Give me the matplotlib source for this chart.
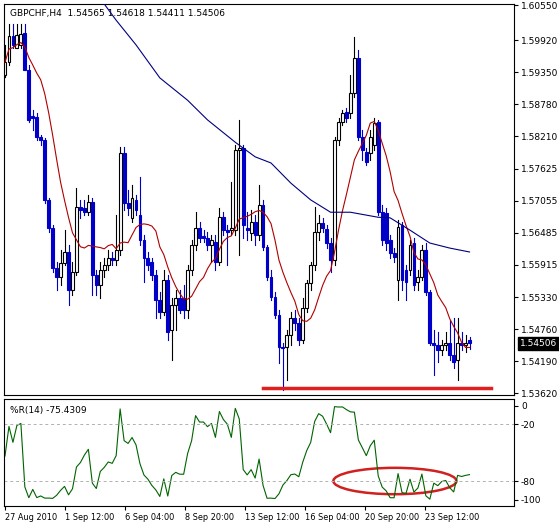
import numpy as np
import matplotlib
matplotlib.use("Agg")
import matplotlib.pyplot as plt
from matplotlib.patches import Rectangle, Ellipse

# GBPCHF H4 candles
opens = [1.5930, 1.5953, 1.6000, 1.5978, 1.5984, 1.6005, 1.5939, 1.5857, 1.5855, 1.5819,
         1.5814, 1.5707, 1.5657, 1.5585, 1.5569, 1.5594, 1.5614, 1.5546, 1.5578, 1.5694,
         1.5693, 1.5685, 1.5703, 1.5573, 1.5555, 1.5582, 1.5591, 1.5603, 1.5600, 1.5617,
         1.5791, 1.5701, 1.5675, 1.5707, 1.5680, 1.5635, 1.5603, 1.5596, 1.5573, 1.5528,
         1.5507, 1.5564, 1.5475, 1.5519, 1.5532, 1.5532, 1.5510, 1.5582, 1.5626, 1.5657,
         1.5643, 1.5639, 1.5626, 1.5632, 1.5596, 1.5676, 1.5653, 1.5653, 1.5653, 1.5796,
         1.5800, 1.5657, 1.5648, 1.5668, 1.5644, 1.5698, 1.5623, 1.5569, 1.5534, 1.5501,
         1.5444, 1.5444, 1.5466, 1.5496, 1.5487, 1.5457, 1.5514, 1.5559, 1.5591, 1.5650,
         1.5666, 1.5655, 1.5630, 1.5600, 1.5814, 1.5846, 1.5864, 1.5862, 1.5898, 1.5960,
         1.5819, 1.5793, 1.5791, 1.5805, 1.5846, 1.5685, 1.5684, 1.5635, 1.5612, 1.5564,
         1.5662, 1.5582, 1.5582, 1.5630, 1.5560, 1.5569, 1.5617, 1.5542, 1.5451, 1.5448,
         1.5439, 1.5448, 1.5451, 1.5430, 1.5421, 1.5451, 1.5448, 1.54565]
closes = [1.5953, 1.6000, 1.5984, 1.6001, 1.6003, 1.5939, 1.5850, 1.5853, 1.5819, 1.5814,
          1.5707, 1.5657, 1.5585, 1.5569, 1.5594, 1.5614, 1.5546, 1.5578, 1.5694, 1.5689,
          1.5685, 1.5703, 1.5573, 1.5555, 1.5582, 1.5591, 1.5603, 1.5600, 1.5617, 1.5791,
          1.5701, 1.5693, 1.5710, 1.5689, 1.5635, 1.5603, 1.5591, 1.5573, 1.5528, 1.5507,
          1.5564, 1.5471, 1.5519, 1.5532, 1.5510, 1.5510, 1.5582, 1.5626, 1.5657, 1.5639,
          1.5639, 1.5626, 1.5635, 1.5596, 1.5676, 1.5653, 1.5650, 1.5657, 1.5796, 1.5800,
          1.5662, 1.5653, 1.5668, 1.5644, 1.5698, 1.5623, 1.5569, 1.5534, 1.5501, 1.5444,
          1.5443, 1.5466, 1.5496, 1.5487, 1.5457, 1.5514, 1.5559, 1.5591, 1.5650, 1.5666,
          1.5657, 1.5630, 1.5600, 1.5814, 1.5846, 1.5862, 1.5853, 1.5898, 1.5960, 1.5819,
          1.5796, 1.5775, 1.5819, 1.5844, 1.5685, 1.5635, 1.5630, 1.5612, 1.5605, 1.5659,
          1.5564, 1.5560, 1.5626, 1.5555, 1.5569, 1.5617, 1.5542, 1.5451, 1.5448, 1.5439,
          1.5448, 1.5451, 1.5430, 1.5417, 1.5451, 1.5448, 1.5451, 1.54506]
highs = [1.5984, 1.6021, 1.6021, 1.6021, 1.6021, 1.6021, 1.5948, 1.5868, 1.5862, 1.5823,
         1.5818, 1.5710, 1.5662, 1.5596, 1.5617, 1.5653, 1.5626, 1.5596, 1.5728, 1.5707,
         1.5707, 1.5716, 1.5710, 1.5582, 1.5596, 1.5603, 1.5617, 1.5614, 1.5680, 1.5801,
         1.5801, 1.5725, 1.5734, 1.5716, 1.5748, 1.5644, 1.5614, 1.5603, 1.5582, 1.5542,
         1.5582, 1.5573, 1.5532, 1.5546, 1.5546, 1.5555, 1.5591, 1.5635, 1.5685, 1.5668,
         1.5653, 1.5650, 1.5644, 1.5644, 1.5693, 1.5685, 1.5662, 1.5739, 1.5805, 1.5850,
         1.5805, 1.5685, 1.5689, 1.5680, 1.5734, 1.5707, 1.5626, 1.5582, 1.5542, 1.5510,
         1.5451, 1.5475, 1.5507, 1.5510, 1.5496, 1.5532, 1.5564, 1.5596, 1.5694, 1.5680,
         1.5675, 1.5662, 1.5639, 1.5819, 1.5853, 1.5868, 1.5871, 1.5930, 1.5998, 1.5975,
         1.5832, 1.5800, 1.5832, 1.5853, 1.5850, 1.5698, 1.5693, 1.5644, 1.5621, 1.5671,
         1.5668, 1.5591, 1.5635, 1.5639, 1.5582, 1.5626, 1.5630, 1.5546, 1.5475, 1.5471,
         1.5457, 1.5471, 1.5492, 1.5496, 1.5496, 1.5471, 1.5466, 1.54618]
lows = [1.5926, 1.5948, 1.5978, 1.5978, 1.5978, 1.5939, 1.5846, 1.5832, 1.5814, 1.5805,
        1.5701, 1.5650, 1.5578, 1.5546, 1.5555, 1.5591, 1.5519, 1.5537, 1.5573, 1.5675,
        1.5680, 1.5680, 1.5537, 1.5537, 1.5532, 1.5569, 1.5582, 1.5591, 1.5591, 1.5609,
        1.5689, 1.5680, 1.5668, 1.5680, 1.5626, 1.5560, 1.5582, 1.5564, 1.5496, 1.5496,
        1.5501, 1.5457, 1.5421, 1.5475, 1.5505, 1.5496, 1.5496, 1.5573, 1.5617, 1.5632,
        1.5632, 1.5617, 1.5596, 1.5582, 1.5591, 1.5644, 1.5591, 1.5644, 1.5644, 1.5609,
        1.5639, 1.5635, 1.5635, 1.5626, 1.5635, 1.5617, 1.5564, 1.5528, 1.5496, 1.5416,
        1.5367, 1.5385, 1.5448, 1.5475, 1.5448, 1.5451, 1.5507, 1.5546, 1.5582, 1.5635,
        1.5650, 1.5621, 1.5578, 1.5591, 1.5805, 1.5841, 1.5846, 1.5853, 1.5891, 1.5814,
        1.5778, 1.5769, 1.5778, 1.5796, 1.5680, 1.5626, 1.5617, 1.5603, 1.5596, 1.5528,
        1.5546, 1.5528, 1.5573, 1.5546, 1.5546, 1.5564, 1.5537, 1.5448, 1.5394, 1.5417,
        1.5430, 1.5439, 1.5421, 1.5407, 1.5385, 1.5439, 1.5435, 1.54411]

# slow moving average (blue), read at a few bars
slow_ma_bars = [25, 28, 33, 39, 46, 51, 58, 63, 67, 72, 77, 82, 87, 94, 97, 102, 107, 112, 117]
slow_ma_vals = [1.6057, 1.6028, 1.5984, 1.5925, 1.5885, 1.5850, 1.5810, 1.5784, 1.5773, 1.5737,
                1.5707, 1.5685, 1.5685, 1.5676, 1.5675, 1.5653, 1.5630, 1.5621, 1.5614]

price_ticks = [1.60550, 1.59920, 1.59350, 1.58780, 1.58210, 1.57625, 1.57055,
               1.56485, 1.55915, 1.55330, 1.54760, 1.54190, 1.53620]
date_labels = ["27 Aug 2010", "1 Sep 12:00", "6 Sep 04:00", "8 Sep 20:00",
               "13 Sep 12:00", "16 Sep 04:00", "20 Sep 20:00", "23 Sep 12:00"]
support_level = 1.5371

o = np.array(opens); c = np.array(closes); h = np.array(highs); l = np.array(lows)
n = len(o)
idx = np.arange(n)

# fast MA (red) and Williams %R(14) derived from the candles
fast_ma = np.array([c[max(0, i - 9):i + 1].mean() for i in range(n)])
wr = []
for i in range(n):
    hh = h[max(0, i - 13):i + 1].max()
    ll = l[max(0, i - 13):i + 1].min()
    wr.append(-100 * (hh - c[i]) / (hh - ll))
wr = np.array(wr)

W, H = 559, 526
fig = plt.figure(figsize=(W / 100, H / 100), dpi=100)
ax = fig.add_axes([4 / W, 1 - 395 / H, 510 / W, 391 / H])
ax2 = fig.add_axes([4 / W, 1 - 506 / H, 510 / W, 107 / H])

blue = "#0000c8"
for i in range(n):
    bull = c[i] >= o[i]
    col = "black" if bull else blue
    ax.plot([i, i], [l[i], h[i]], color=col, lw=0.8, zorder=2)
    lo, hi = min(o[i], c[i]), max(o[i], c[i])
    ax.add_patch(Rectangle((i - 0.36, lo), 0.72, max(hi - lo, 0.00005),
                           facecolor="white" if bull else blue, edgecolor=col,
                           lw=0.8, zorder=3))
ax.plot(idx, fast_ma, color="#b00000", lw=0.8, zorder=4)
ax.plot(slow_ma_bars, slow_ma_vals, color="#000080", lw=0.8, zorder=4)
ax.plot([65, 122.5], [support_level, support_level], color="#e02020", lw=2.5, zorder=5)

xmin, xmax = -0.25, 128.2
ax.set_xlim(xmin, xmax)
ax.set_ylim(1.53585, 1.6057)
ax.yaxis.tick_right()
ax.set_yticks(price_ticks)
ax.set_yticklabels([f"{t:.5f}" for t in price_ticks])
ax.set_xticks([])
ax.tick_params(axis="y", labelsize=6.5, length=3, pad=2)
ax.text(0.012, 0.988, "GBPCHF,H4  1.54565 1.54618 1.54411 1.54506",
        transform=ax.transAxes, fontsize=6.5, va="top")
ax.text(1.012, c[-1], f"{c[-1]:.5f}", transform=ax.get_yaxis_transform(),
        fontsize=6.5, color="white", va="center",
        bbox=dict(boxstyle="square,pad=0.2", fc="black", ec="black"))

ax2.plot(idx, wr, color="#006400", lw=0.8)
for lev in [-20, -80]:
    ax2.axhline(lev, color="#b0b0b0", lw=0.7, ls=(0, (3, 3)))
ax2.add_patch(Ellipse((98.2, -80), 31, 28, fill=False, edgecolor="#d02020", lw=1.8))
ax2.set_xlim(xmin, xmax)
ax2.set_ylim(-106.5, 7)
ax2.yaxis.tick_right()
ax2.set_yticks([0, -20, -80, -100])
ax2.set_yticklabels(["0", "-20", "-80", "-100"])
ax2.set_xticks([i * 15.1 for i in range(len(date_labels))])
ax2.set_xticklabels(date_labels, ha="left")
ax2.tick_params(labelsize=6.5, length=3, pad=2)
ax2.tick_params(axis="x", labelsize=5.9)
ax2.text(0.012, 0.93, "%R(14) -75.4309", transform=ax2.transAxes, fontsize=6.5, va="top")

for a in (ax, ax2):
    for s in a.spines.values():
        s.set_linewidth(0.8)

fig.savefig("out.png", dpi=100)
